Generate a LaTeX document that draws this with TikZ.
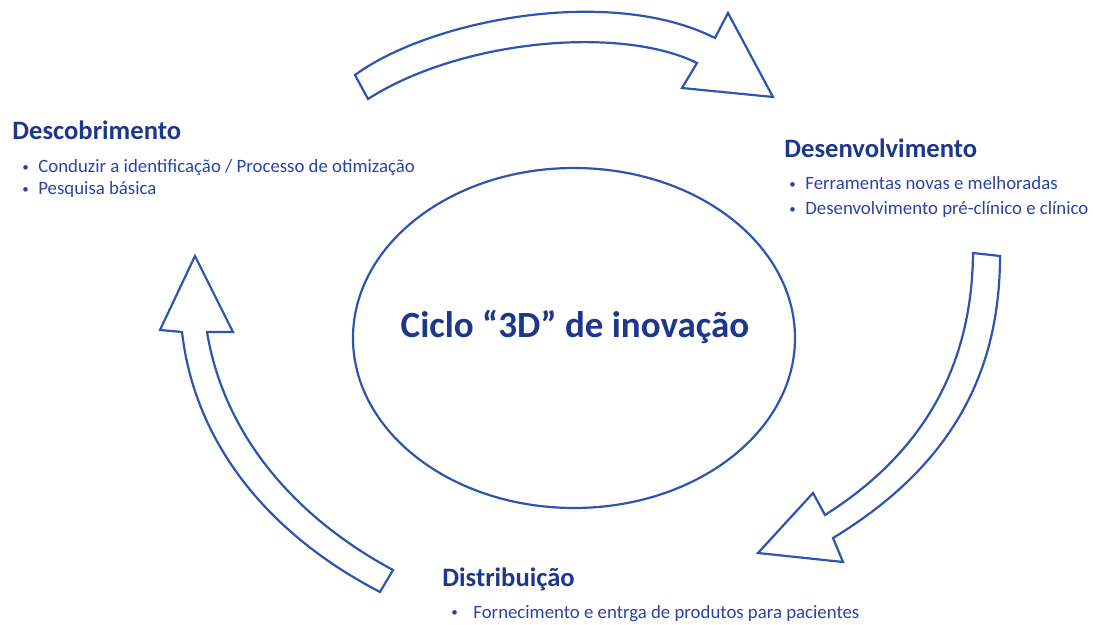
\documentclass[tikz,border=0pt]{standalone}
\usepackage{fontspec}
\setmainfont{Carlito}
\definecolor{headblue}{RGB}{30,55,140}
\definecolor{textblue}{RGB}{45,65,165}
\definecolor{lineblue}{RGB}{45,85,175}
\newcommand{\bul}[1]{\makebox[#1][l]{\raisebox{0.6pt}{\fontsize{6.5}{7}\selectfont•}}}
\begin{document}
\begin{tikzpicture}[x=0.5pt,y=-0.5pt,
  heading/.style={anchor=base west,inner sep=0pt,text=headblue,font=\fontsize{13.3}{15}\selectfont\bfseries},
  bulletline/.style={anchor=base west,inner sep=0pt,text=textblue,font=\fontsize{9.4}{11}\selectfont},
  bigarrow/.style={draw=lineblue,line width=1.1pt,fill=white,line join=miter}]
\useasboundingbox (0,0) rectangle (1093,625);
% central ellipse
\draw[draw=lineblue,line width=1.1pt] (574,338) ellipse [x radius=221, y radius=170];
\node[anchor=base,inner sep=0pt,text=headblue,font=\fontsize{18.5}{21}\selectfont\bfseries] (title) at (575,338) {Ciclo “3D” de inovação};
% top arrow
\path[bigarrow] (355,75) .. controls (430,20) and (610,-15) .. (715,38)
  -- (728,13) -- (773,97) -- (682,88) -- (697,63)
  .. controls (620,25) and (460,40) .. (368,99) -- cycle;
% right arrow
\path[bigarrow] (973,253) -- (1000,256)
  .. controls (1000,380) and (945,470) .. (833,538)
  -- (843,562) -- (758,553) -- (813,493) -- (825,515)
  .. controls (920,455) and (972,370) .. (973,253) -- cycle;
% left arrow
\path[bigarrow] (195,256) -- (233,332) -- (207,332)
  .. controls (225,440) and (300,520) .. (393,570)
  -- (380,592)
  .. controls (270,535) and (195,445) .. (182,332)
  -- (160,330) -- cycle;
% Descobrimento
\node[heading] (h1) at (12,140) {Descobrimento};
\node[bulletline] (b11) at (22,173) {\bul{8pt}Conduzir a identificação / Processo de otimização};
\node[bulletline] (b12) at (22,195) {\bul{8pt}Pesquisa básica};
% Desenvolvimento
\node[heading] (h2) at (784,158) {Desenvolvimento};
\node[bulletline] (b21) at (789,190) {\bul{8pt}Ferramentas novas e melhoradas};
\node[bulletline] (b22) at (789,215) {\bul{8pt}Desenvolvimento pré-clínico e clínico};
% Distribuicao
\node[heading] (h3) at (442,587) {Distribuição};
\node[bulletline] (b31) at (451,618) {\bul{11pt}Fornecimento e entrga de produtos para pacientes};
\end{tikzpicture}
\end{document}
